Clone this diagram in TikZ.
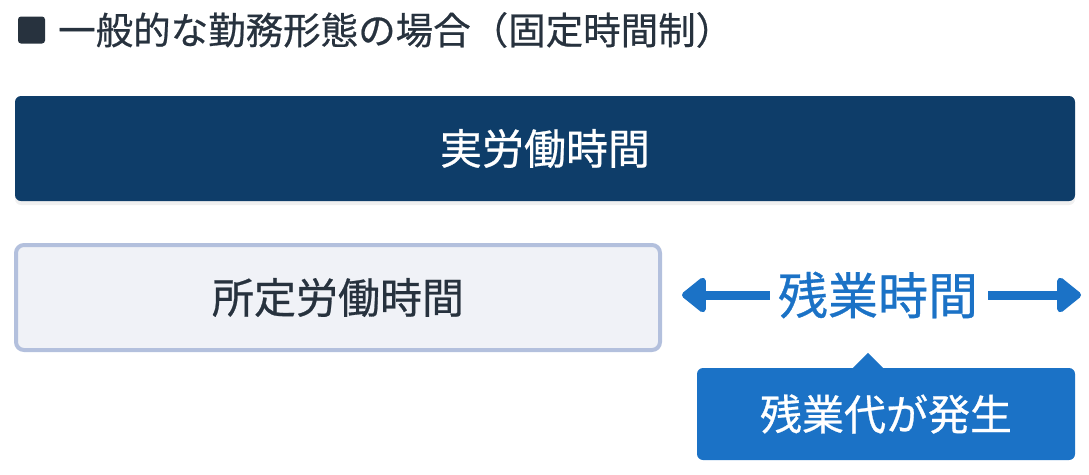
\documentclass[tikz,border=0pt]{standalone}
\usepackage{fontspec}
\setmainfont{Noto Sans CJK JP}[FakeBold=0.6]
\usetikzlibrary{arrows.meta,positioning,shadows}
\definecolor{navy}{HTML}{0E3D69}
\definecolor{ink}{HTML}{27323E}
\definecolor{paleface}{HTML}{F0F2F7}
\definecolor{paleedge}{HTML}{B3C0DD}
\definecolor{otblue}{HTML}{1B72C6}

\begin{document}
\begin{tikzpicture}[x=1pt, y=-1pt, every node/.style={inner sep=0pt},
  bar/.style={rounded corners=6pt, minimum width=1060pt, minimum height=105pt, fill=navy, text=white,
    font=\fontsize{42}{48}\selectfont, drop shadow={opacity=0.12, shadow xshift=0pt, shadow yshift=-4pt}},
  fixedbox/.style={rounded corners=8pt, minimum width=644pt, minimum height=105pt, fill=paleface,
    draw=paleedge, line width=4pt, text=ink, font=\fontsize{42}{48}\selectfont},
  callout/.style={rounded corners=6pt, minimum width=378pt, minimum height=92pt, fill=otblue, text=white,
    font=\fontsize{42}{48}\selectfont},
  otarrow/.style={otblue, line width=9pt, -{Triangle[length=26pt, width=40pt, round]}}]
\useasboundingbox (0,0) rectangle (1089,474);
\node[fill=ink, rounded corners=3pt, minimum size=27pt] (mark) at (31.5,30) {};
\node[anchor=west, text=ink, font=\fontsize{37.5}{42}\selectfont] (title) at (58,30) {一般的な勤務形態の場合（固定時間制）};
\node[bar] (actual) at (545,148.5) {実労働時間};
\node[fixedbox] (fixed) at (338,297.5) {所定労働時間};
\node[text=otblue, font=\fontsize{50}{56}\selectfont] (ot) at (878,295) {残業時間};
\coordinate (otleft) at (682,295);
\coordinate (otright) at (1081,295);
\draw[otarrow] ([xshift=-8pt]ot.west) -- (otleft);
\draw[otarrow] ([xshift=10pt]ot.east) -- (otright);
\node[callout] (pay) at (886,414) {残業代が発生};
\fill[otblue] ([xshift=-34pt,yshift=-1pt]pay.north) -- ([xshift=-18pt,yshift=15pt]pay.north) -- ([xshift=-2pt,yshift=-1pt]pay.north) -- cycle;
\end{tikzpicture}
\end{document}
